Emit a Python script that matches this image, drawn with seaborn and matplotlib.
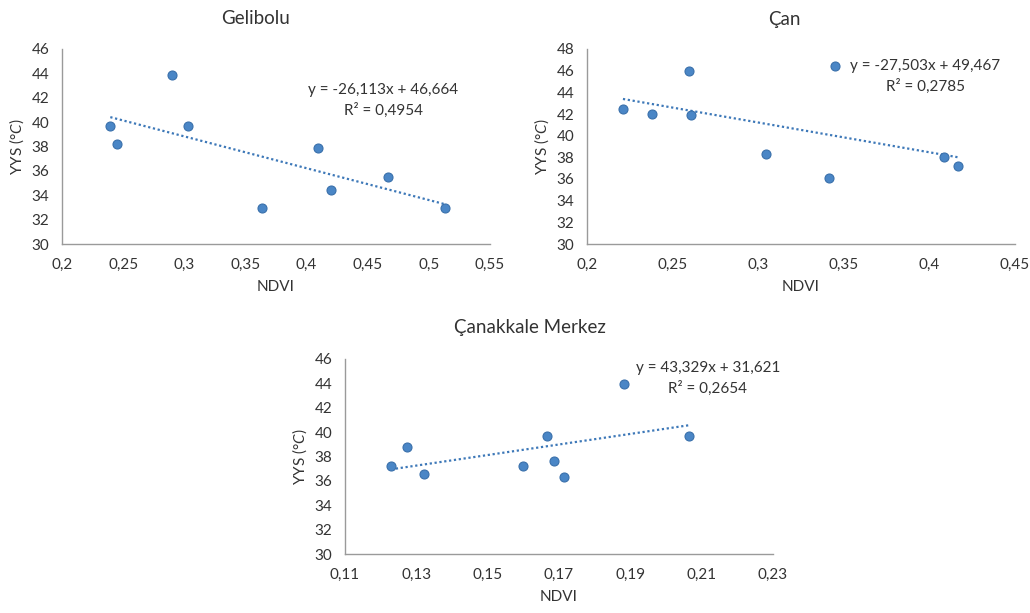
import numpy as np
import pandas as pd
import matplotlib
matplotlib.use('Agg')
import matplotlib.pyplot as plt
import seaborn as sns

# Gelibolu
gel_ndvi = [0.2395, 0.2447, 0.2902, 0.3033, 0.3633, 0.4091, 0.4203, 0.4664, 0.5133]
gel_yys = [39.67, 38.22, 43.90, 39.72, 32.92, 37.84, 34.42, 35.49, 32.92]
gel_fit = [-26.113, 46.664]
gel_eq = ['y = -26,113x + 46,664', 'R² = 0,4954']

# Çan
can_ndvi = [0.2210, 0.2380, 0.2594, 0.2607, 0.3046, 0.3414, 0.3451, 0.4087, 0.4169]
can_yys = [42.50, 41.98, 45.97, 41.89, 38.29, 36.05, 46.46, 38.05, 37.16]
can_fit = [-27.503, 49.467]
can_eq = ['y = -27,503x + 49,467', 'R² = 0,2785']

# Çanakkale Merkez
mer_ndvi = [0.1229, 0.1274, 0.1322, 0.1600, 0.1667, 0.1685, 0.1713, 0.1881, 0.2065]
mer_yys = [37.24, 38.76, 36.58, 37.18, 39.67, 37.65, 36.28, 43.98, 39.72]
mer_fit = [43.329, 31.621]
mer_eq = ['y = 43,329x + 31,621', 'R² = 0,2654']

sns.set_style('white')
plt.rcParams['font.family'] = ['Lato', 'DejaVu Sans']
plt.rcParams['mathtext.fontset'] = 'custom'
plt.rcParams['mathtext.it'] = 'Lato:italic'
plt.rcParams['mathtext.rm'] = 'Lato'

W, H = 1030, 613
fig = plt.figure(figsize=(W / 100, H / 100), dpi=100)

blue = '#4a86c6'
edge = '#3a70ab'
gray = '#9a9a9a'
txt = '#333333'


def px_rect(l, t, r, b):
    return [l / W, 1 - b / H, (r - l) / W, (b - t) / H]


def draw(rect, ndvi, yys, fit, eq, title, title_xy, eq_xy, xlim, xstep, ylim):
    ax = fig.add_axes(px_rect(*rect))
    df = pd.DataFrame({'NDVI': ndvi, 'YYS': yys})
    sns.scatterplot(data=df, x='NDVI', y='YYS', ax=ax, s=42, color=blue,
                    edgecolor=edge, linewidth=0.8, zorder=3)
    xs = np.array([min(ndvi), max(ndvi)])
    ax.plot(xs, fit[0] * xs + fit[1], color='#3d78b8', lw=1.6,
            linestyle=(0, (1, 1.2)), zorder=2)
    ax.set_xlim(*xlim)
    ax.set_ylim(*ylim)
    xt = np.arange(xlim[0], xlim[1] + xstep / 2, xstep)
    ax.set_xticks(xt)
    ax.set_xticklabels([('%g' % round(v, 2)).replace('.', ',') for v in xt])
    yt = np.arange(ylim[0], ylim[1] + 1, 2)
    ax.set_yticks(yt)
    ax.set_yticklabels([str(int(v)) for v in yt])
    for s in ['top', 'right']:
        ax.spines[s].set_visible(False)
    for s in ['left', 'bottom']:
        ax.spines[s].set_color(gray)
        ax.spines[s].set_linewidth(1)
    ax.tick_params(axis='both', direction='out', length=4, width=1,
                   color=gray, labelsize=11, labelcolor=txt, pad=5)
    ax.tick_params(axis='x', length=5)
    ax.set_xlabel('NDVI', fontsize=11, color=txt, labelpad=6)
    ax.set_ylabel('YYS (°$\\mathit{C}$)', fontsize=11, color=txt, labelpad=4)
    fig.text(title_xy[0] / W, 1 - title_xy[1] / H, title, ha='center',
             va='center', fontsize=13.5, color=txt)
    fig.text(eq_xy[0] / W, 1 - eq_xy[1] / H, eq[0], ha='center',
             va='center', fontsize=11, color=txt)
    fig.text(eq_xy[0] / W, 1 - (eq_xy[1] + 20) / H, eq[1], ha='center',
             va='center', fontsize=11, color=txt)
    return ax


draw((62, 49, 490, 244), gel_ndvi, gel_yys, gel_fit, gel_eq, 'Gelibolu',
     (255, 19), (383, 90), (0.2, 0.55), 0.05, (30, 46))
draw((587, 49, 1015, 244), can_ndvi, can_yys, can_fit, can_eq, 'Çan',
     (784, 19), (925, 66), (0.2, 0.45), 0.05, (30, 48))
draw((345, 359, 773, 554), mer_ndvi, mer_yys, mer_fit, mer_eq, 'Çanakkale Merkez',
     (530, 327), (708, 368), (0.11, 0.23), 0.02, (30, 46))

fig.savefig('out.png', dpi=100)
